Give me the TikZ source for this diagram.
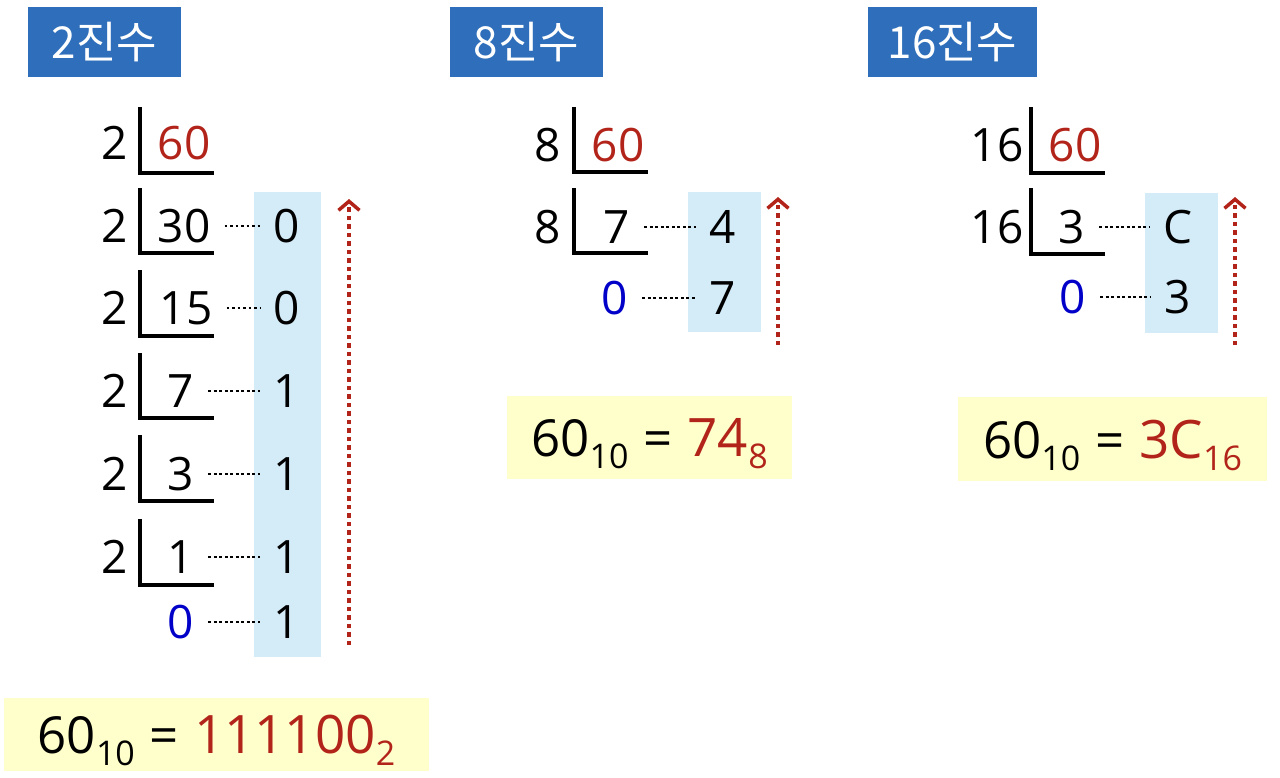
\documentclass[tikz,border=0pt]{standalone}
\usepackage{fontspec}
\setmainfont{Open Sans}
\newfontfamily\krfont{Noto Sans CJK KR}
\usetikzlibrary{arrows.meta, positioning}
\definecolor{titleblue}{RGB}{46,110,186}
\definecolor{remblue}{RGB}{212,235,248}
\definecolor{resyellow}{RGB}{255,255,204}
\definecolor{numred}{RGB}{178,36,26}
\definecolor{zeroblue}{RGB}{0,0,200}
\newcommand{\basesub}[1]{\raisebox{-12pt}{\fontsize{34}{36}\selectfont #1}}
\newcommand{\eqsign}{\hspace{15pt}=\hspace{15pt}}
\newcommand{\redpart}[1]{\textcolor{numred}{\fontsize{53}{55}\selectfont #1}}
\tikzstyle{title} = [rectangle, fill=titleblue, text=white, minimum width=153pt, minimum height=70pt, inner sep=0pt, font=\krfont\fontsize{44}{46}\selectfont]
\tikzstyle{num} = [inner sep=0pt, font=\fontsize{46}{50}\selectfont]
\tikzstyle{quot} = [num, inner xsep=14pt]
\tikzstyle{rem} = [num, inner xsep=14pt]
\tikzstyle{digitbox} = [rectangle, fill=remblue]
\tikzstyle{result} = [rectangle, fill=resyellow, inner sep=0pt, text depth=0pt, font=\fontsize{51}{54}\selectfont]
\tikzstyle{bar} = [line width=3.5pt]
\tikzstyle{leader} = [line width=2.8pt, dash pattern=on 2.8pt off 2.7pt]
\tikzstyle{upward} = [draw=numred, line width=3.5pt, dash pattern=on 4.5pt off 4pt, -{Straight Barb[length=9pt, width=21pt, line width=3.5pt]}]

\begin{document}
\begin{tikzpicture}[x=1pt, y=-1pt]
	\useasboundingbox (0,0) rectangle (1280,777);
	
	% Titles
	\node (t2) [title, minimum width=153pt] at (104.5,42) {2진수};
	\node (t8) [title, minimum width=153pt] at (526.5,42) {8진수};
	\node (t16) [title, minimum width=169pt] at (952.5,42) {16진수};
	
	% Remainder columns
	\fill [remblue] (254,192) rectangle (321,657);
	\fill [remblue] (688,192) rectangle (761,332);
	\fill [remblue] (1145,193) rectangle (1218,333);
	
	% Binary
	\node (b2a) [num] at (115,143) {2};
	\node (b2b) [num] at (115,226) {2};
	\node (b2c) [num] at (115,308) {2};
	\node (b2d) [num] at (115,391) {2};
	\node (b2e) [num] at (115,474) {2};
	\node (b2f) [num] at (115,557) {2};
	\node (bq0) [quot, text=numred] at (184,143) {60};
	\node (bq1) [quot] at (184,226) {30};
	\node (bq2) [quot] at (186,308) {15};
	\node (bq3) [quot] at (181,391) {7};
	\node (bq4) [quot] at (181,474) {3};
	\node (bq5) [quot] at (181,557) {1};
	\node (bq6) [quot, text=zeroblue] at (181,622) {0};
	\node (br1) [rem] at (287,226) {0};
	\node (br2) [rem] at (287,308) {0};
	\node (br3) [rem] at (287,391) {1};
	\node (br4) [rem] at (287,474) {1};
	\node (br5) [rem] at (287,557) {1};
	\node (br6) [rem] at (287,622) {1};
	\draw [bar] (140,107) |- (214,173);
	\draw [bar] (140,188) |- (214,253);
	\draw [bar] (140,270) |- (214,336);
	\draw [bar] (140,353) |- (214,418);
	\draw [bar] (140,435) |- (214,501);
	\draw [bar] (140,519) |- (214,585);
	\draw [leader] (bq1) -- (br1);
	\draw [leader] (bq2) -- (br2);
	\draw [leader] (bq3) -- (br3);
	\draw [leader] (bq4) -- (br4);
	\draw [leader] (bq5) -- (br5);
	\draw [leader] (bq6) -- (br6);
	\coordinate (bfoot) at (349,645);
	\coordinate (btop) at (349,199);
	\draw [upward] (bfoot) -- (btop);
	\node (bres) [result, minimum width=425pt, minimum height=73pt] at (216.5,734.5)
		{60\basesub{10}\eqsign\redpart{111100\basesub{2}}};
	
	% Octal
	\node (o8a) [num] at (548,145) {8};
	\node (o8b) [num] at (548,227) {8};
	\node (oq0) [quot, text=numred] at (618,145) {60};
	\node (oq1) [quot] at (617,227) {7};
	\node (oq2) [quot, text=zeroblue] at (615,298) {0};
	\node (or1) [rem] at (723,227) {4};
	\node (or2) [rem] at (723,298) {7};
	\draw [bar] (574,107) |- (648,172);
	\draw [bar] (574,188) |- (648,253);
	\draw [leader] (oq1) -- (or1);
	\draw [leader] (oq2) -- (or2);
	\coordinate (ofoot) at (778,345);
	\coordinate (otop) at (778,197);
	\draw [upward] (ofoot) -- (otop);
	\node (ores) [result, minimum width=285pt, minimum height=83pt] at (649.5,437.5)
		{60\basesub{10}\eqsign\redpart{74\basesub{8}}};
	
	% Hexadecimal
	\node (h16a) [num] at (997,145) {16};
	\node (h16b) [num] at (997,227) {16};
	\node (hq0) [quot, text=numred] at (1075,145) {60};
	\node (hq1) [quot] at (1072,227) {3};
	\node (hq2) [quot, text=zeroblue] at (1073,297) {0};
	\node (hr1) [rem] at (1178,227) {C};
	\node (hr2) [rem] at (1178,297) {3};
	\draw [bar] (1031,107) |- (1105,173);
	\draw [bar] (1031,188) |- (1105,254);
	\draw [leader] (hq1) -- (hr1);
	\draw [leader] (hq2) -- (hr2);
	\coordinate (hfoot) at (1235,345);
	\coordinate (htop) at (1235,197);
	\draw [upward] (hfoot) -- (htop);
	\node (hres) [result, minimum width=309pt, minimum height=84pt] at (1112.5,439)
		{60\basesub{10}\eqsign\redpart{3C\basesub{16}}};
	
\end{tikzpicture}
\end{document}
